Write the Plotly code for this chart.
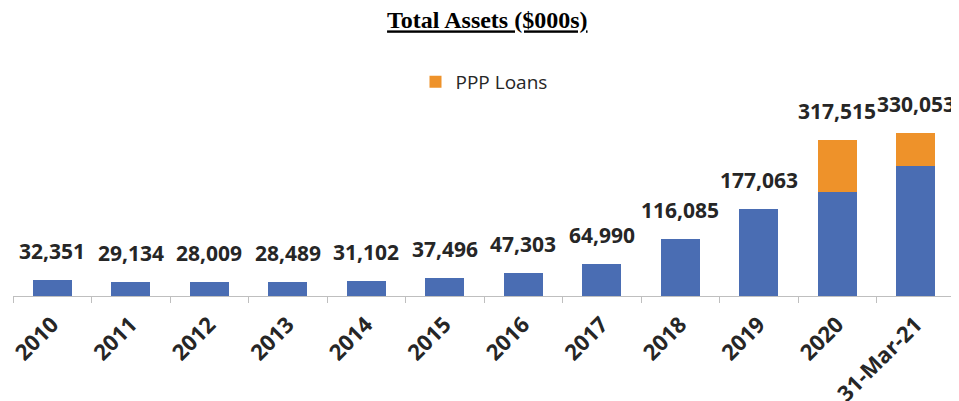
import plotly.graph_objects as go

categories = ["2010", "2011", "2012", "2013", "2014", "2015", "2016", "2017", "2018", "2019", "2020", "31-Mar-21"]
total_assets = [32351, 29134, 28009, 28489, 31102, 37496, 47303, 64990, 116085, 177063, 317515, 330053]
ppp_loans = [0, 0, 0, 0, 0, 0, 0, 0, 0, 0, 105800, 66800]
core_assets = [t - p for t, p in zip(total_assets, ppp_loans)]

BLUE = "#4A6DB3"
ORANGE = "#EE922A"
TXT = "#262626"

fig = go.Figure()
fig.add_trace(go.Bar(x=categories, y=core_assets, marker=dict(color=BLUE, line=dict(width=0)),
                     showlegend=False, name="Total Assets"))
fig.add_trace(go.Bar(x=categories, y=ppp_loans, marker=dict(color=ORANGE, line=dict(width=0)),
                     name="PPP Loans"))

for i, t in enumerate(total_assets):
    fig.add_annotation(x=i, y=t, text=f"{t:,}", showarrow=False, yanchor="bottom", yshift=13,
                       font=dict(family="Open Sans", size=21, color=TXT, weight="bold"))

# page body has an 8px default margin, so the figure is sized to fit the 959x401 window
fig.update_layout(
    barmode="stack",
    bargap=0.5,
    width=951, height=393,
    margin=dict(l=5, r=4, t=92, b=105, autoexpand=False),
    paper_bgcolor="white", plot_bgcolor="white",
    title=dict(text="Total Assets ($000s)", x=0.504, xanchor="center", y=0.9695, yanchor="middle",
               font=dict(family="Liberation Serif", size=24, color="black", weight="bold", lineposition="under")),
    legend=dict(orientation="h", x=0.5, xanchor="center", y=1.092, yanchor="middle",
                font=dict(family="Open Sans", size=19, color=TXT), bgcolor="rgba(0,0,0,0)"),
    xaxis=dict(type="category", range=[-0.5, len(categories) - 0.5], showline=True,
               linecolor="#BFBFBF", linewidth=1, automargin=False,
               ticks="outside", tickson="boundaries", ticklen=6, tickcolor="#BFBFBF",
               tickangle=-45, showgrid=False, ticklabelstandoff=6,
               tickfont=dict(family="Open Sans", size=22, color=TXT, weight="bold")),
    yaxis=dict(visible=False, range=[0, 398000], showgrid=False, automargin=False),
)

fig.write_html("out.html")
